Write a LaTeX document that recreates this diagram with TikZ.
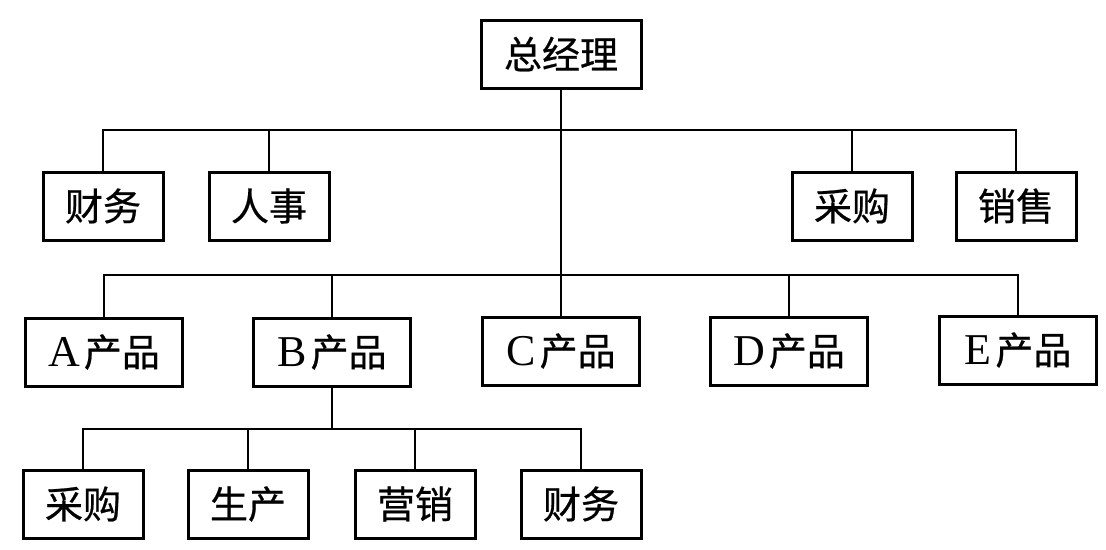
\documentclass[tikz,border=0pt]{standalone}
\usepackage{fontspec}
\setmainfont{Liberation Serif}
\newfontfamily\cjk[FakeBold=0.6]{Noto Sans CJK SC}
\newcommand{\lat}[1]{{\rmfamily\fontsize{44}{44}\selectfont #1}\hspace{4pt}}
\begin{document}
\begin{tikzpicture}[x=1pt,y=-1pt,
  box/.style={draw,line width=3pt,minimum height=68pt,inner sep=0pt,font=\fontsize{38}{38}\selectfont\cjk},
  wbox/.style={box,minimum width=120pt},
  pbox/.style={box,minimum width=157pt},
  link/.style={line width=1.3pt}]
\useasboundingbox (0,0) rectangle (1106,549);
\node[box,minimum width=160pt] (gm) at (561,54) {总经理};
\node[wbox] (cw) at (103,206) {财务};
\node[wbox] (rs) at (269,206) {人事};
\node[wbox] (cg) at (852,206) {采购};
\node[wbox] (xs) at (1016,206) {销售};
\node[pbox] (pa) at (104,352) {\lat{A}产品};
\node[pbox] (pb) at (332,352) {\lat{B}产品};
\node[pbox] (pc) at (561,351) {\lat{C}产品};
\node[pbox] (pd) at (789,351) {\lat{D}产品};
\node[pbox] (pe) at (1018,350) {\lat{E}产品};
\node[wbox] (b1) at (83,504) {采购};
\node[wbox] (b2) at (248,504) {生产};
\node[wbox] (b3) at (415,504) {营销};
\node[wbox] (b4) at (581,504) {财务};
\coordinate (bus1) at (561,130);
\coordinate (bus2) at (561,275);
\coordinate (bus3) at (332,429);
\draw[link] (gm.south) -- (bus2);
\foreach \n in {cw,rs,cg,xs} \draw[link] (\n.north) |- (bus1);
\foreach \n in {pa,pb,pd,pe} \draw[link] (\n.north) |- (bus2);
\draw[link] (pc.north) -- (bus2);
\draw[link] (pb.south) -- (bus3);
\foreach \n in {b1,b2,b3,b4} \draw[link] (\n.north) |- (bus3);
\end{tikzpicture}
\end{document}
